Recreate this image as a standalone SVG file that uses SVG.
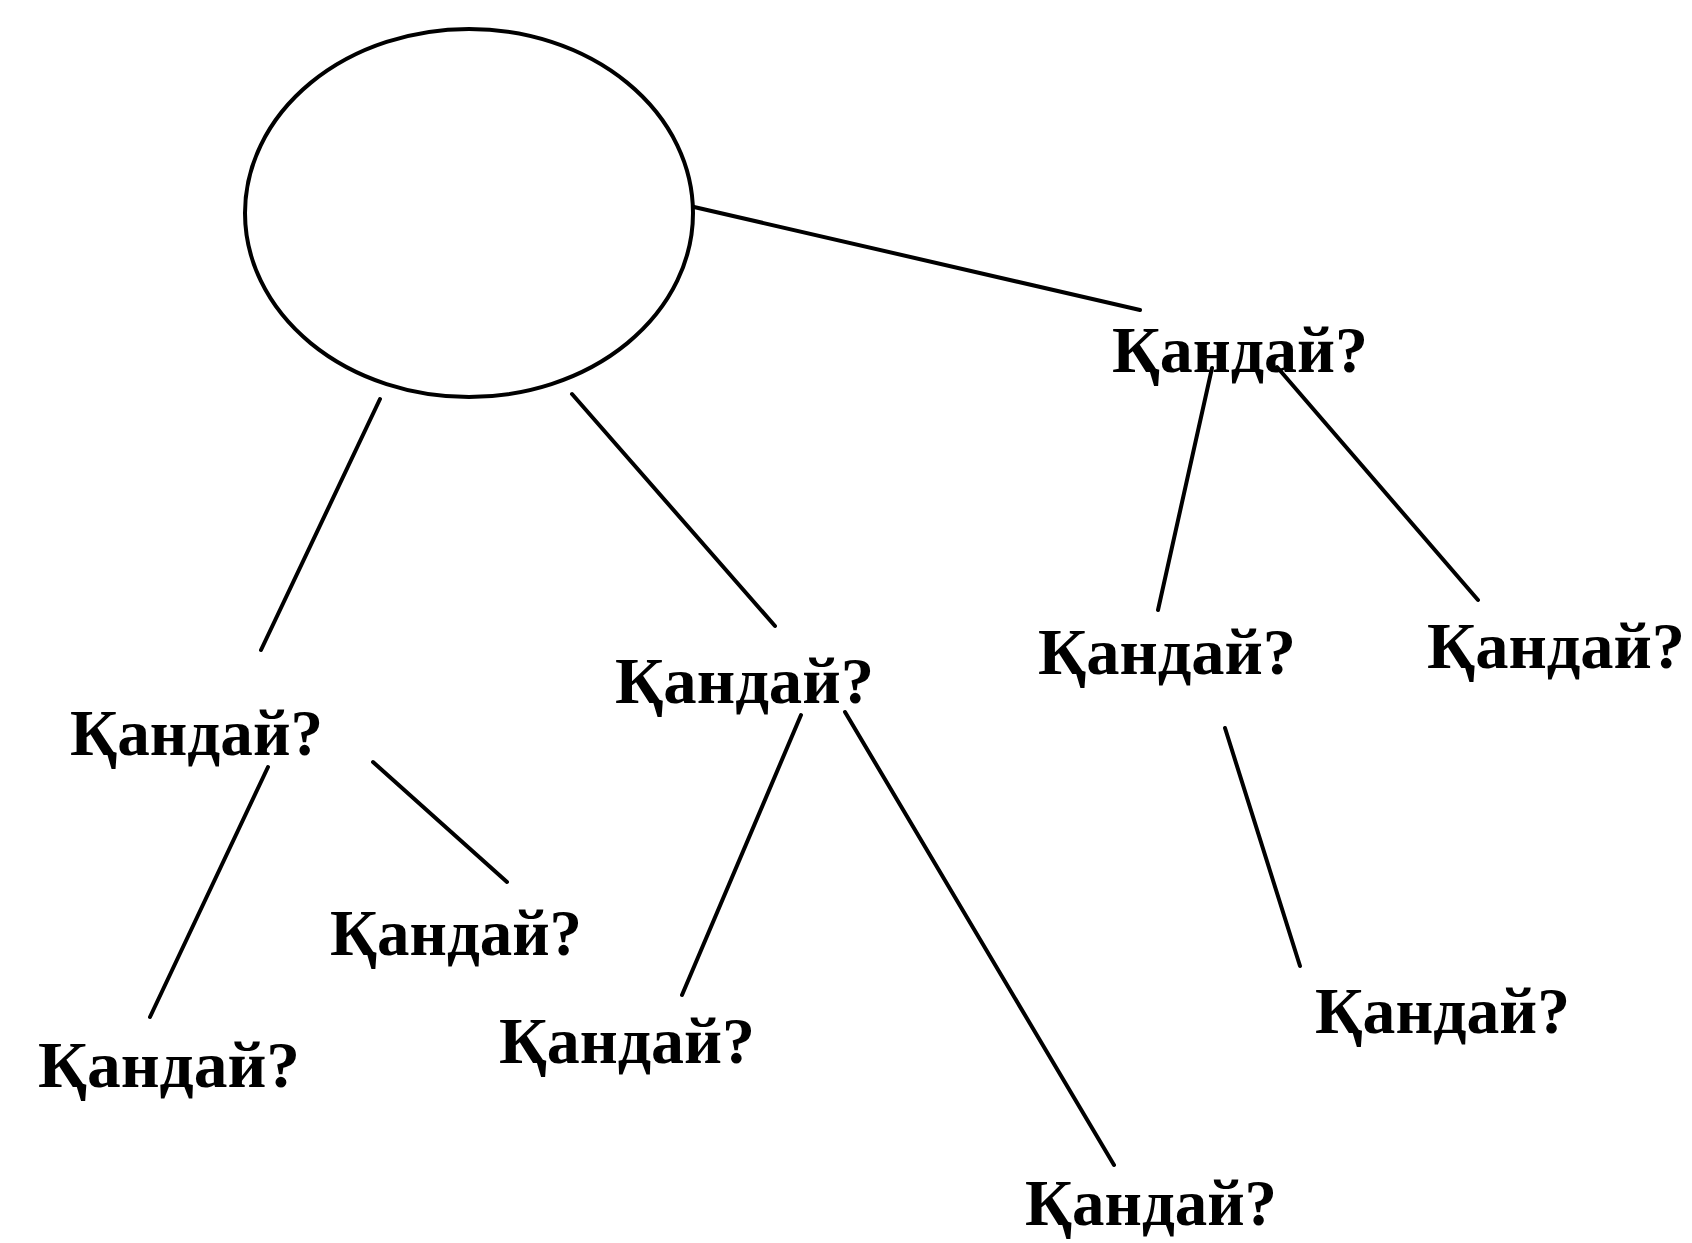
<svg xmlns="http://www.w3.org/2000/svg" width="1692" height="1243" viewBox="0 0 1692 1243">
  <style>
    .bg { fill: #ffffff; }
    .shape { fill: none; stroke: #000000; stroke-width: 4; }
    .conn line { stroke: #000000; stroke-width: 4; stroke-linecap: round; }
    .lbl { font-family: "Liberation Serif", "DejaVu Serif", serif; font-weight: bold; font-size: 65px; fill: #000000; }
  </style>
  <rect class="bg" x="0" y="0" width="1692" height="1243"/>
  <g id="connectors" class="conn">
    <line x1="694" y1="207" x2="1140" y2="310"/>
    <line x1="380" y1="399" x2="261" y2="650"/>
    <line x1="572" y1="394" x2="775" y2="626"/>
    <line x1="1212" y1="368" x2="1158" y2="610"/>
    <line x1="1277" y1="367" x2="1478" y2="600"/>
    <line x1="268" y1="767" x2="150" y2="1017"/>
    <line x1="373" y1="762" x2="507" y2="882"/>
    <line x1="801" y1="715" x2="682" y2="995"/>
    <line x1="845" y1="712" x2="1114" y2="1165"/>
    <line x1="1225" y1="728" x2="1300" y2="966"/>
  </g>
  <g id="root">
    <ellipse class="shape" cx="469" cy="213" rx="224" ry="184"/>
  </g>
  <g id="n1"><text class="lbl" x="1112" y="372" textLength="256" lengthAdjust="spacingAndGlyphs">Қандай?</text></g>
  <g id="n2"><text class="lbl" x="70" y="755" textLength="253" lengthAdjust="spacingAndGlyphs">Қандай?</text></g>
  <g id="n3"><text class="lbl" x="615" y="703" textLength="259" lengthAdjust="spacingAndGlyphs">Қандай?</text></g>
  <g id="n4"><text class="lbl" x="1038" y="674" textLength="258" lengthAdjust="spacingAndGlyphs">Қандай?</text></g>
  <g id="n5"><text class="lbl" x="1427" y="668" textLength="258" lengthAdjust="spacingAndGlyphs">Қандай?</text></g>
  <g id="n6"><text class="lbl" x="330" y="955" textLength="252" lengthAdjust="spacingAndGlyphs">Қандай?</text></g>
  <g id="n7"><text class="lbl" x="38" y="1087" textLength="262" lengthAdjust="spacingAndGlyphs">Қандай?</text></g>
  <g id="n8"><text class="lbl" x="499" y="1063" textLength="256" lengthAdjust="spacingAndGlyphs">Қандай?</text></g>
  <g id="n9"><text class="lbl" x="1315" y="1033" textLength="255" lengthAdjust="spacingAndGlyphs">Қандай?</text></g>
  <g id="n10"><text class="lbl" x="1025" y="1225" textLength="252" lengthAdjust="spacingAndGlyphs">Қандай?</text></g>
</svg>
